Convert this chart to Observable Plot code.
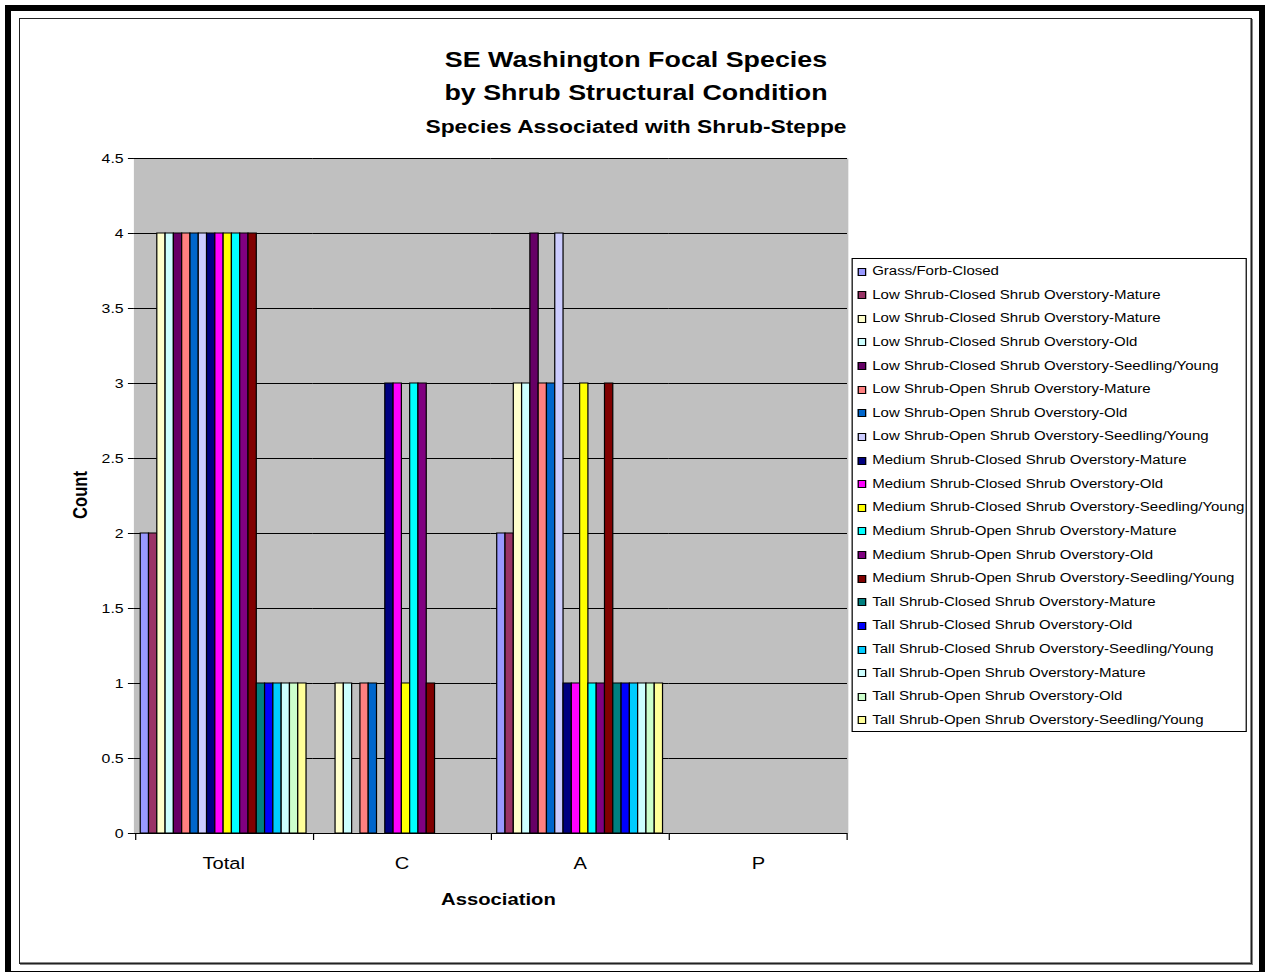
<!DOCTYPE html>
<html>
<head>
<meta charset="utf-8">
<script src="https://cdn.jsdelivr.net/npm/d3@7"></script>
<script src="https://cdn.jsdelivr.net/npm/@observablehq/plot@0.6"></script>
<style>
  html, body { margin: 0; padding: 0; background: #fff; overflow: hidden; }
  body { width: 1265px; height: 972px; position: relative; font-family: "Liberation Sans", Arial, sans-serif; color: #000; }
  .abs { position: absolute; }
  #stage { position: absolute; left: 0; top: 0; height: 972px; transform-origin: 0 0; }
  .title { position: absolute; left: 0; text-align: center; font-weight: bold; white-space: nowrap; }
  .axtitle { position: absolute; font-weight: bold; white-space: nowrap; font-size: 16.6px; }
  #legend { position: absolute; border: 1px solid #000; background: #fff; box-sizing: border-box; }
  .lrow { position: absolute; left: 0; white-space: nowrap; font-size: 12.3px; }
  .sw { position: absolute; border: 1px solid #000; box-sizing: border-box; }
</style>
</head>
<body>
<div class="abs" style="left:5px;top:5px;width:1259.8px;height:971.5px;border:6.5px solid #000;box-sizing:border-box;"></div>
<div class="abs" style="left:19.3px;top:17.7px;width:1232.4px;height:946px;border:1px solid #222;box-shadow: inset -1px -1px 0 #888, 1px 1px 0 #888;box-sizing:border-box;"></div>
<div id="stage"></div>
<script>
// ---- data ----
const groups = ["Total", "C", "A", "P"];
const seriesNames = [
  "Grass/Forb-Closed",
  "Low Shrub-Closed Shrub Overstory-Mature",
  "Low Shrub-Closed Shrub Overstory-Mature",
  "Low Shrub-Closed Shrub Overstory-Old",
  "Low Shrub-Closed Shrub Overstory-Seedling/Young",
  "Low Shrub-Open Shrub Overstory-Mature",
  "Low Shrub-Open Shrub Overstory-Old",
  "Low Shrub-Open Shrub Overstory-Seedling/Young",
  "Medium Shrub-Closed Shrub Overstory-Mature",
  "Medium Shrub-Closed Shrub Overstory-Old",
  "Medium Shrub-Closed Shrub Overstory-Seedling/Young",
  "Medium Shrub-Open Shrub Overstory-Mature",
  "Medium Shrub-Open Shrub Overstory-Old",
  "Medium Shrub-Open Shrub Overstory-Seedling/Young",
  "Tall Shrub-Closed Shrub Overstory-Mature",
  "Tall Shrub-Closed Shrub Overstory-Old",
  "Tall Shrub-Closed Shrub Overstory-Seedling/Young",
  "Tall Shrub-Open Shrub Overstory-Mature",
  "Tall Shrub-Open Shrub Overstory-Old",
  "Tall Shrub-Open Shrub Overstory-Seedling/Young"
];
const seriesColors = [
  "#9999FF", "#993366", "#FFFFCC", "#CCFFFF", "#660066",
  "#FF8080", "#0066CC", "#CCCCFF", "#000080", "#FF00FF",
  "#FFFF00", "#00FFFF", "#800080", "#800000", "#008080",
  "#0000FF", "#00CCFF", "#CCFFFF", "#CCFFCC", "#FFFF99"
];
const totalCounts = [2, 2, 4, 4, 4, 4, 4, 4, 4, 4, 4, 4, 4, 4, 1, 1, 1, 1, 1, 1];
const cCounts     = [0, 0, 1, 1, 0, 1, 1, 0, 3, 3, 1, 3, 3, 1, 0, 0, 0, 0, 0, 0];
const aCounts     = [2, 2, 3, 3, 4, 3, 3, 4, 1, 1, 3, 1, 1, 3, 1, 1, 1, 1, 1, 1];
const pCounts     = [0, 0, 0, 0, 0, 0, 0, 0, 0, 0, 0, 0, 0, 0, 0, 0, 0, 0, 0, 0];
const yTicks = [0, 0.5, 1, 1.5, 2, 2.5, 3, 3.5, 4, 4.5];
const titleLines = ["SE Washington Focal Species", "by Shrub Structural Condition", "Species Associated with Shrub-Steppe"];
const xTitle = "Association";
const yTitle = "Count";

// ---- layout ----
const SX = 1.22;               // horizontal stretch of the original picture
const W0 = 1265 / SX;
const ux = v => v / SX;        // final px -> unscaled px
const plotL = 134, plotR = 847, plotT = 158, plotB = 833;
const FONT = '"Liberation Sans", Arial, sans-serif';

const stage = document.getElementById("stage");
stage.style.width = W0 + "px";
stage.style.transform = `scaleX(${SX})`;

const allCounts = [totalCounts, cCounts, aCounts, pCounts];
const data = groups.flatMap((g, gi) =>
  allCounts[gi].map((v, si) => ({group: g, series: si, value: v, color: seriesColors[si]}))
);

const chart = Plot.plot({
  width: W0,
  height: 972,
  marginLeft: ux(plotL),
  marginRight: W0 - ux(plotR),
  marginTop: plotT,
  marginBottom: 972 - plotB,
  style: {background: "transparent", fontFamily: FONT, fontSize: "13px", color: "#000", overflow: "visible"},
  fx: {domain: groups, padding: 0, round: false, label: null, axis: "bottom", tickSize: 0, tickPadding: 24},
  x: {domain: d3.range(seriesNames.length), paddingInner: 0, paddingOuter: 0.75, round: false, axis: null},
  y: {domain: [0, 4.5], ticks: yTicks, tickFormat: d => String(d), label: null, tickSize: 5, tickPadding: 4, line: true},
  marks: [
    Plot.frame({fill: "#C0C0C0", stroke: null, insetLeft: -0.6, insetRight: -0.6}),
    Plot.ruleY(yTicks, {stroke: "#000", strokeWidth: 1}),
    Plot.barY(data, {fx: "group", x: "series", y: "value", fill: "color", stroke: "#000", strokeWidth: 1, inset: 0})
  ]
});
chart.style.position = "absolute";
chart.style.left = "0px";
chart.style.top = "0px";
chart.querySelectorAll("text").forEach(t => {
  if (groups.includes(t.textContent)) {
    t.setAttribute("font-size", "16.5");
    t.style.fontSize = "16.5px";
  }
});
stage.appendChild(chart);

// category boundary ticks below the axis
const edges = d3.range(groups.length + 1);
const tickPlot = Plot.plot({
  width: W0,
  height: 7,
  marginLeft: ux(plotL),
  marginRight: W0 - ux(plotR),
  marginTop: 0,
  marginBottom: 0,
  style: {background: "transparent", overflow: "visible"},
  x: {domain: [0, groups.length], axis: null},
  y: {axis: null},
  marks: [Plot.ruleX(edges, {x: d => d, stroke: "#000", strokeWidth: 1})]
});
tickPlot.style.position = "absolute";
tickPlot.style.left = "0px";
tickPlot.style.top = plotB + "px";
stage.appendChild(tickPlot);

// titles
const titleCenters = [60, 93, 127];
const titleSizes = [22, 22, 18.7];
const titleCx = ux(636);
titleLines.forEach((txt, i) => {
  const d = document.createElement("div");
  d.className = "title";
  d.textContent = txt;
  d.style.width = (2 * titleCx) + "px";
  d.style.fontSize = titleSizes[i] + "px";
  d.style.lineHeight = "30px";
  d.style.top = (titleCenters[i] - 15) + "px";
  stage.appendChild(d);
});

// axis titles
const xt = document.createElement("div");
xt.className = "axtitle";
xt.textContent = xTitle;
xt.style.left = ux(498.5) + "px";
xt.style.top = "900px";
xt.style.transform = "translate(-50%, -50%)";
stage.appendChild(xt);

const yt = document.createElement("div");
yt.className = "axtitle";
yt.textContent = yTitle;
yt.style.left = ux(80) + "px";
yt.style.top = "495px";
yt.style.transform = "translate(-50%, -50%) rotate(-90deg)";
stage.appendChild(yt);

// legend
const legend = document.createElement("div");
legend.id = "legend";
const lgL = ux(852), lgR = ux(1246.5), lgT = 258, lgB = 731.5;
legend.style.left = lgL + "px";
legend.style.top = lgT + "px";
legend.style.width = (lgR - lgL) + "px";
legend.style.height = (lgB - lgT) + "px";
const rowStep = 23.63;
seriesNames.forEach((name, i) => {
  const cy = 270 - lgT + i * rowStep;
  const sw = document.createElement("div");
  sw.className = "sw";
  sw.style.left = (ux(856.5) - lgL) + "px";
  sw.style.top = (cy - 3.5) + "px";
  sw.style.width = ux(8) + "px";
  sw.style.height = "8px";
  sw.style.background = seriesColors[i];
  legend.appendChild(sw);
  const r = document.createElement("div");
  r.className = "lrow";
  r.textContent = name;
  r.style.left = (ux(871) - lgL) + "px";
  r.style.top = (cy - 8) + "px";
  r.style.lineHeight = "16px";
  legend.appendChild(r);
});
stage.appendChild(legend);
</script>
</body>
</html>
